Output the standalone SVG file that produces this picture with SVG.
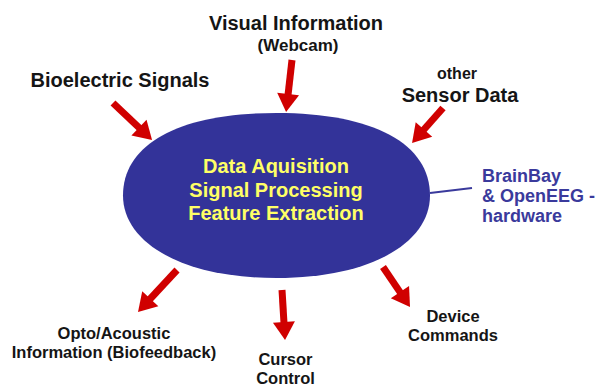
<svg xmlns="http://www.w3.org/2000/svg" width="596" height="388" viewBox="0 0 596 388">
  <defs>
    <style>
      text { font-family: "Liberation Sans", Arial, sans-serif; font-weight: bold; }
      .lbl { fill: #151515; text-anchor: middle; }
      .sm { font-size: 16.5px; }
      .core { fill: #FFFF66; text-anchor: middle; font-size: 20px; }
      .hw { fill: #3a3a9c; font-size: 18px; }
      .arrow { stroke: #D00000; stroke-width: 7; fill: none; marker-end: url(#head); }
    </style>
    <marker id="head" markerUnits="userSpaceOnUse" markerWidth="18" markerHeight="22" refX="1" refY="11" orient="auto" overflow="visible">
      <path d="M0,0 L18,11 L0,22 Z" fill="#D00000"/>
    </marker>
  </defs>
  <rect width="596" height="388" fill="#ffffff"/>

  <g id="core">
    <path d="M430,195.5 C430,241.5 373.2,278 276.5,278 C179.8,278 123,241.5 123,195.5 C123,143.5 179.8,113 276.5,113 C373.2,113 430,143.5 430,195.5 Z" fill="#333399"/>
    <text class="core" x="276" y="173">Data Aquisition</text>
    <text class="core" x="276" y="197">Signal Processing</text>
    <text class="core" x="276" y="220">Feature Extraction</text>
  </g>

  <g id="visual">
    <text class="lbl" x="296" y="30" font-size="20">Visual Information</text>
    <text class="lbl" x="298" y="51" font-size="17">(Webcam)</text>
  </g>
  <g id="bioelectric">
    <text class="lbl" x="120" y="87" font-size="20">Bioelectric Signals</text>
  </g>
  <g id="sensor">
    <text class="lbl" x="457" y="79" font-size="16">other</text>
    <text class="lbl" x="460" y="102" font-size="20">Sensor Data</text>
  </g>
  <g id="hardware">
    <text class="hw" x="482" y="182">BrainBay</text>
    <text class="hw" x="482" y="202">&amp; OpenEEG -</text>
    <text class="hw" x="482" y="222">hardware</text>
  </g>
  <g id="biofeedback">
    <text class="lbl sm" x="114" y="339">Opto/Acoustic</text>
    <text class="lbl sm" x="114" y="358">Information (Biofeedback)</text>
  </g>
  <g id="cursor">
    <text class="lbl sm" x="285.5" y="365">Cursor</text>
    <text class="lbl sm" x="285.5" y="384">Control</text>
  </g>
  <g id="device">
    <text class="lbl sm" x="453" y="322">Device</text>
    <text class="lbl sm" x="453" y="341">Commands</text>
  </g>

  <g id="connectors">
    <line x1="430" y1="193" x2="472" y2="188" stroke="#3a3a9c" stroke-width="2"/>
    <line class="arrow" x1="113" y1="103" x2="139.7" y2="128.3"/>
    <line class="arrow" x1="292" y1="60" x2="288" y2="95.1"/>
    <line class="arrow" x1="443" y1="108" x2="423.3" y2="130.3"/>
    <line class="arrow" x1="177" y1="270" x2="149.6" y2="299.5"/>
    <line class="arrow" x1="282" y1="290" x2="284" y2="323"/>
    <line class="arrow" x1="383" y1="267" x2="400.5" y2="292.9"/>
  </g>
</svg>
